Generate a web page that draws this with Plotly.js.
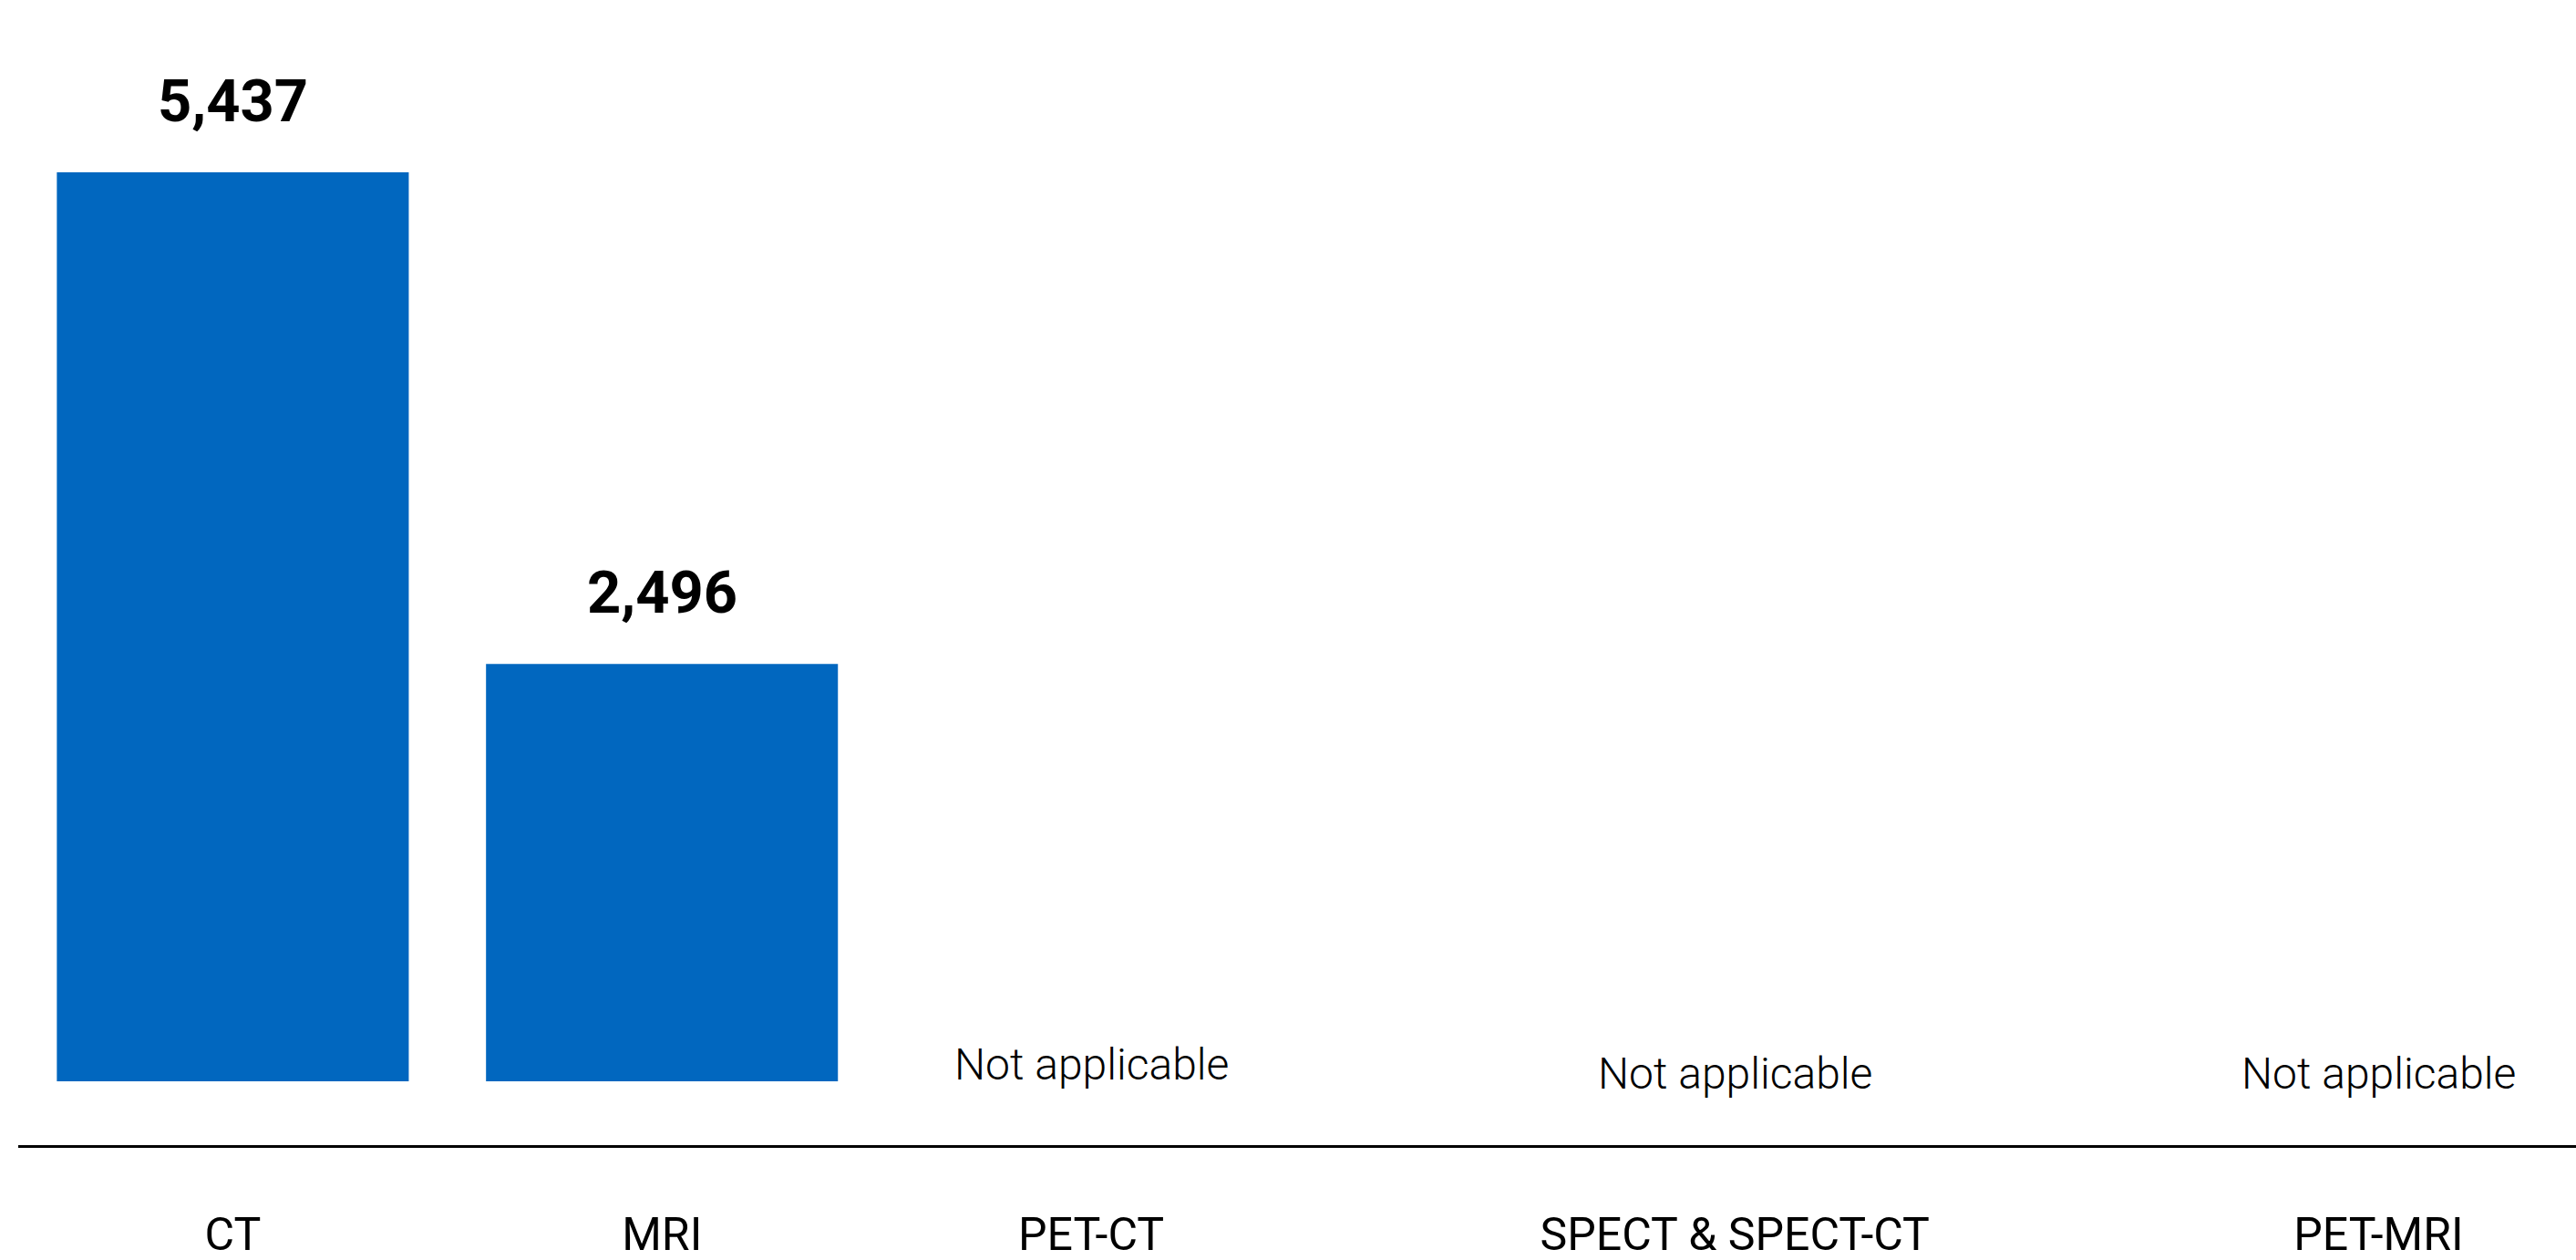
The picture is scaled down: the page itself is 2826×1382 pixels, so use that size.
<!DOCTYPE html>
<html>
<head>
<meta charset="utf-8">
<script src="https://cdn.plot.ly/plotly-3.0.1.min.js"></script>
<style>
  html, body { margin: 0; padding: 0; background: #ffffff; }
  #chart { width: 2826px; height: 1382px; }
</style>
</head>
<body>
<div id="chart"></div>
<script>
// ---- data ----
const categories = ['CT', 'MRI', 'PET-CT', 'SPECT & SPECT-CT', 'PET-MRI'];
const values = [5437, 2496, null, null, null];
const missingLabel = 'Not applicable';

// ---- layout helpers (positions / styles) ----
const xPos = [0, 1, 2, 3.5, 5];
const naShift = [0, 0, 18, 8, 8];
const barColor = '#0167BF';

const presentX = [], presentY = [];
values.forEach((v, i) => { if (v !== null) { presentX.push(xPos[i]); presentY.push(v); } });

const annotations = [];
values.forEach((v, i) => {
  if (v !== null) {
    annotations.push({
      x: xPos[i], y: v, xref: 'x', yref: 'y',
      text: v.toLocaleString('en-US'),
      showarrow: false, yanchor: 'bottom', yshift: 38,
      font: { family: 'Roboto', size: 65, color: '#000000', weight: 700 }
    });
  } else {
    annotations.push({
      x: xPos[i], y: 0, xref: 'x', yref: 'y',
      text: missingLabel,
      showarrow: false, yanchor: 'middle', yshift: naShift[i],
      font: { family: 'Roboto', size: 48, color: '#000000', weight: 300 }
    });
  }
});

const trace = {
  type: 'bar',
  x: presentX,
  y: presentY,
  width: 0.82,
  marker: { color: barColor },
  hoverinfo: 'skip'
};

const layout = {
  width: 2826, height: 1382,
  margin: { l: 20, r: 0, t: 0, b: 126 },
  paper_bgcolor: '#ffffff', plot_bgcolor: '#ffffff',
  showlegend: false,
  xaxis: {
    range: [-0.5, 5.46],
    tickmode: 'array', tickvals: xPos, ticktext: categories,
    showgrid: false, zeroline: false,
    showline: true, linecolor: '#000000', linewidth: 2.5,
    ticks: 'outside', ticklen: 52, tickcolor: 'rgba(0,0,0,0)',
    tickfont: { family: 'Roboto', size: 50, color: '#000000' },
    fixedrange: true
  },
  yaxis: {
    range: [-382, 6468],
    visible: false, showgrid: false, zeroline: false,
    fixedrange: true
  },
  annotations: annotations
};

Plotly.newPlot('chart', [trace], layout, { displayModeBar: false, staticPlot: true });
</script>
</body>
</html>
